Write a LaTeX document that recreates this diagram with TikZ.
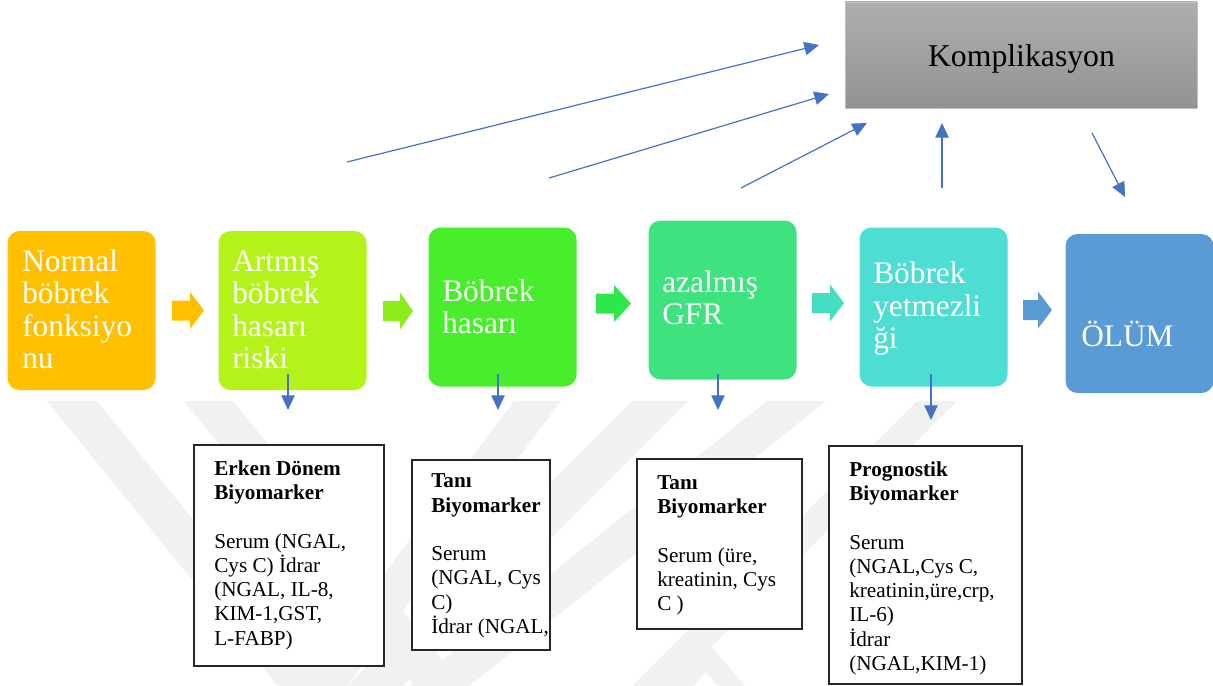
\documentclass[tikz,border=0pt]{standalone}
\usepackage{fontspec}
\setmainfont{Liberation Serif}
\usetikzlibrary{arrows.meta}
\definecolor{cA}{HTML}{FFC000}
\definecolor{cB}{HTML}{B3F31A}
\definecolor{cC}{HTML}{48EE2B}
\definecolor{cD}{HTML}{3EE27E}
\definecolor{cE}{HTML}{4DDDD3}
\definecolor{cF}{HTML}{5B9BD5}
\definecolor{aA}{HTML}{FFC000}
\definecolor{aB}{HTML}{8EEB1E}
\definecolor{aC}{HTML}{2EE84A}
\definecolor{aD}{HTML}{45DEC0}
\definecolor{aE}{HTML}{5B9BD5}
\definecolor{ln}{HTML}{4472C4}
\definecolor{wm}{HTML}{F1F1F1}
\definecolor{kTop}{HTML}{AEAEAE}
\definecolor{kBot}{HTML}{939393}
\newcommand{\fl}{\rule{0pt}{1em}}
\newcommand{\blk}[5]{%
  \fill[#5] (#1,{#2-10}) -- ({#1+#3-#4},{#2-10}) -- ({#1+#3-#4},{#2-18.5}) --
    ({#1+#3},#2) -- ({#1+#3-#4},{#2+18.5}) -- ({#1+#3-#4},{#2+10}) -- (#1,{#2+10}) -- cycle;}
\tikzset{
  stage/.style={rounded corners=9pt, minimum width=111pt, minimum height=119.25pt, inner sep=0pt},
  stagetext/.style={anchor=north west, inner sep=0pt, align=left, text=white,
    font=\fontsize{23.5}{24.4}\selectfont},
  bio/.style={draw=black!85, line width=1pt, fill=white, inner sep=0pt},
  biotext/.style={anchor=north west, inner sep=0pt, align=left,
    font=\fontsize{15.9}{18.2}\selectfont},
  link/.style={draw=ln, line width=0.9pt, -{Triangle[length=11pt,width=10pt]}},
}
\begin{document}
\begin{tikzpicture}[x=0.75pt,y=-0.75pt]
\useasboundingbox (0,0) rectangle (1213,685);
% watermark
\begin{scope}
  \clip (0,401) rectangle (1213,685);
  \fill[wm] (47,401) -- (97,401) -- (345,707) -- (295,707) -- cycle;
  \fill[wm] (184,401) -- (233,401) -- (481,707) -- (432,707) -- cycle;
  \fill[wm] (514,401) -- (561,401) -- (331,707) -- (284,707) -- cycle;
  \fill[wm] (632,401) -- (688,401) -- (382,707) -- (326,707) -- cycle;
  \fill[wm] (767,401) -- (826,401) -- (443,707) -- (384,707) -- cycle;
  \fill[wm] (917,401) -- (957,401) -- (651,707) -- (611,707) -- cycle;
  \fill[wm] (655,700) -- (706,640) -- (757,700) -- (730,700) -- (706,672) -- (682,700) -- cycle;
\end{scope}
% stages
\node[stage, fill=cA] (s1) at (81.5,310.5) {};
\node[stage, fill=cB] (s2) at (292.5,310.5) {};
\node[stage, fill=cC] (s3) at (502.5,307) {};
\node[stage, fill=cD] (s4) at (722.5,300) {};
\node[stage, fill=cE] (s5) at (933.5,307) {};
\node[stage, fill=cF] (s6) at (1139.5,313.5) {};
\node[stagetext] (t1) at (22,239.7) {\fl Normal\\böbrek\\fonksiyo\\nu};
\node[stagetext] (t2) at (232,239.7) {\fl Artmış\\böbrek\\hasarı\\riski};
\node[stagetext] (t3) at (442,269.7) {\fl Böbrek\\hasarı};
\node[stagetext] (t4) at (662,260.7) {\fl azalmış\\GFR};
\node[stagetext] (t5) at (873,252) {\fl Böbrek\\yetmezli\\ği};
\node[stagetext] (t6) at (1081,314.7) {\fl ÖLÜM};
% block arrows
\blk{172}{310.5}{32}{14}{aA}
\blk{383}{311}{30}{13}{aB}
\blk{596}{303.5}{35}{17}{aC}
\blk{812}{303}{32}{14}{aD}
\blk{1023}{310}{29}{14}{aE}
% complication
\node[draw=black!25, top color=kTop, bottom color=kBot, minimum width=264pt,
  minimum height=79.5pt, inner sep=0pt] (komp) at (1021,55) {};
\node[anchor=base, inner sep=0pt, font=\fontsize{23.8}{28}\selectfont] (kt) at (1021.5,67) {Komplikasyon};
% biomarker boxes
\node[bio, minimum width=142.5pt, minimum height=165.75pt] (b1) at (289,555.5) {};
\node[bio, minimum width=103.5pt, minimum height=142.5pt] (b2) at (481,555) {};
\node[bio, minimum width=123.75pt, minimum height=127.5pt] (b3) at (719.5,544) {};
\node[bio, minimum width=144.75pt, minimum height=178.5pt] (b4) at (925.5,565) {};
\node[biotext] (bt1) at (214,453.8) {\fl\textbf{Erken Dönem}\\\textbf{Biyomarker}\\[18.2pt]Serum (NGAL,\\Cys C) İdrar\\(NGAL, IL-8,\\KIM-1,GST,\\L-FABP)};
\node[biotext] (bt2) at (431,466.3) {\fl\textbf{Tanı}\\\textbf{Biyomarker}\\[18.2pt]Serum\\(NGAL, Cys\\C)\\İdrar (NGAL,};
\node[biotext] (bt3) at (657,467.8) {\fl\textbf{Tanı}\\\textbf{Biyomarker}\\[18.2pt]Serum (üre,\\kreatinin, Cys\\C )};
\node[biotext] (bt4) at (849,454.8) {\fl\textbf{Prognostik}\\\textbf{Biyomarker}\\[18.2pt]Serum\\(NGAL,Cys C,\\kreatinin,üre,crp,\\IL-6)\\İdrar\\(NGAL,KIM-1)};
% connector coordinates
\coordinate (d2a) at (288,374); \coordinate (d2b) at (288,410);
\coordinate (d3a) at (498,374); \coordinate (d3b) at (498,410);
\coordinate (d4a) at (718,374); \coordinate (d4b) at (718,410);
\coordinate (d5a) at (931,374); \coordinate (d5b) at (931,420);
\coordinate (g1a) at (347,162); \coordinate (g1b) at (819,45);
\coordinate (g2a) at (549,178); \coordinate (g2b) at (829,94);
\coordinate (g3a) at (741,188); \coordinate (g3b) at (867,123);
\coordinate (g4a) at (942,188); \coordinate (g4b) at (942,123);
\coordinate (g5a) at (1092,133); \coordinate (g5b) at (1125,197);
\draw[link] (d2a) -- (d2b);
\draw[link] (d3a) -- (d3b);
\draw[link] (d4a) -- (d4b);
\draw[link] (d5a) -- (d5b);
\draw[link] (g1a) -- (g1b);
\draw[link] (g2a) -- (g2b);
\draw[link] (g3a) -- (g3b);
\draw[link] (g4a) -- (g4b);
\draw[link] (g5a) -- (g5b);
\end{tikzpicture}
\end{document}
